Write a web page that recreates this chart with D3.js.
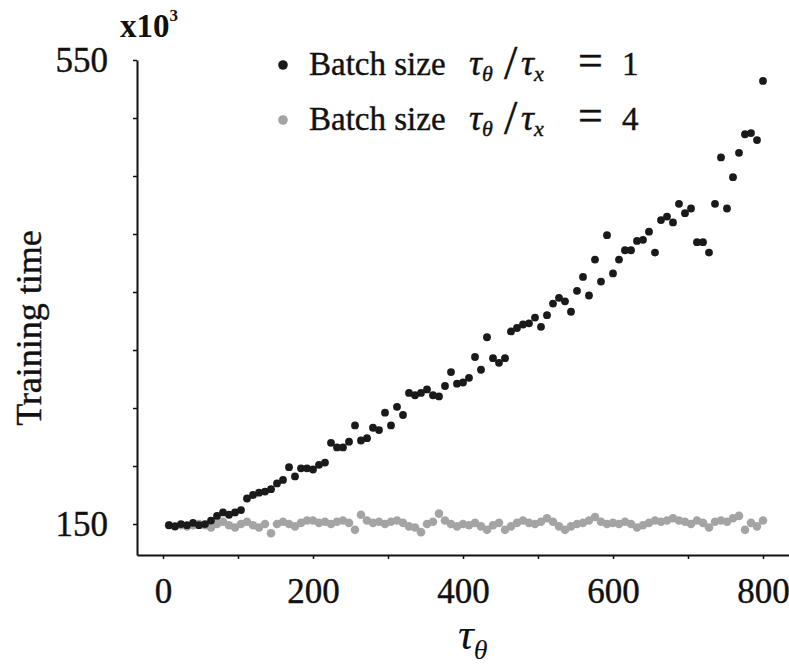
<!DOCTYPE html>
<html>
<head>
<meta charset="utf-8">
<script src="https://cdn.jsdelivr.net/npm/d3@7"></script>
<style>
  body { margin: 0; background: #fff; }
  svg text { font-family: "Liberation Serif", "DejaVu Serif", serif; fill: #111; }
</style>
</head>
<body>
<div id="chart"></div>
<script>
// tau_theta values (x)
const tauTheta = [
  8, 16, 24, 32, 40, 48, 56, 64, 72, 80, 88, 96, 104, 112, 120, 128, 136, 144, 152, 160,
  168, 176, 184, 192, 200, 208, 216, 224, 232, 240, 248, 256, 264, 272, 280, 288, 296, 304, 312, 320,
  328, 336, 344, 352, 360, 368, 376, 384, 392, 400, 408, 416, 424, 432, 440, 448, 456, 464, 472, 480,
  488, 496, 504, 512, 520, 528, 536, 544, 552, 560, 568, 576, 584, 592, 600, 608, 616, 624, 632, 640,
  648, 656, 664, 672, 680, 688, 696, 704, 712, 720, 728, 736, 744, 752, 760, 768, 776, 784, 792, 800
];

// training time (x10^3), batch size tau_theta/tau_x = 1
const batch1 = [
  149, 148, 150, 149, 151, 149, 150, 153, 157, 160,
  158, 160, 162, 172, 175, 177, 178, 180, 185, 188,
  199, 191, 198, 198, 197, 201, 203, 220, 216, 216,
  221, 235, 222, 224, 233, 231, 246, 235, 251, 244,
  263, 261, 263, 266, 261, 260, 269, 281, 271, 272,
  276, 294, 283, 311, 293, 289, 293, 316, 319, 322,
  323, 328, 320, 330, 340, 345, 342, 333, 351, 363,
  347, 378, 359, 399, 366, 378, 386, 386, 394, 395,
  402, 384, 412, 415, 410, 426, 418, 422, 393, 393,
  384, 426, 466, 422, 449, 470, 486, 487, 481, 532
];

// training time (x10^3), batch size tau_theta/tau_x = 4
const batch4 = [
  149, 148, 149, 148, 149, 150, 149, 147, 150, 152,
  149, 147, 150, 152, 149, 147, 150, 142, 150, 152,
  150, 148, 151, 153, 153, 151, 152, 150, 152, 153,
  151, 145, 158, 153, 151, 152, 150, 152, 153, 151,
  148, 147, 143, 150, 152, 159, 153, 150, 148, 150,
  149, 151, 148, 145, 149, 151, 145, 148, 151, 153,
  151, 150, 152, 155, 152, 148, 145, 148, 150, 151,
  153, 156, 152, 150, 151, 150, 152, 150, 147, 149,
  151, 153, 152, 153, 155, 153, 152, 150, 153, 151,
  147, 152, 153, 152, 155, 157, 145, 151, 148, 153
];

const xTicks = [0, 100, 200, 300, 400, 500, 600, 700, 800];
const xTickLabels = [0, 200, 400, 600, 800];
const yTicks = [150, 200, 250, 300, 350, 400, 450, 500, 550];
const yTickLabels = [150, 550];

const serif = '"Liberation Serif", "DejaVu Serif", serif';

let svgWidth = 789;
let svgHeight = 668;

let svg = d3.select('#chart')
  .append('svg')
  .attr('width', svgWidth)
  .attr('height', svgHeight)
  .style('font-family', serif);

let x = d3.scaleLinear().domain([-34.67, 834.67]).range([137, 789]);
let y = d3.scaleLinear().domain([123.3, 550]).range([555, 60]);

// x axis
let gx = svg.append('g')
  .attr('transform', 'translate(0,555)')
  .call(d3.axisBottom(x)
    .tickValues(xTicks)
    .tickSize(4)
    .tickSizeOuter(0)
    .tickPadding(19)
    .tickFormat(d => xTickLabels.includes(d) ? d : ''));

// y axis
let gy = svg.append('g')
  .attr('transform', 'translate(137,0)')
  .call(d3.axisLeft(y)
    .tickValues(yTicks)
    .tickSize(4)
    .tickSizeOuter(0)
    .tickPadding(25)
    .tickFormat(d => yTickLabels.includes(d) ? d : ''));

[gx, gy].forEach(g => {
  g.attr('font-family', serif).attr('font-size', 35);
  g.select('.domain').attr('stroke', '#111').attr('stroke-width', 2);
  g.selectAll('.tick line').attr('stroke', '#111').attr('stroke-width', 1.5);
  g.selectAll('.tick text').attr('fill', '#111').attr('stroke', '#111').attr('stroke-width', 0.4);
});

// points
svg.append('g').selectAll('circle')
  .data(batch4)
  .enter()
  .append('circle')
  .attr('cx', (d, i) => x(tauTheta[i]))
  .attr('cy', d => y(d))
  .attr('r', 4.3)
  .attr('fill', '#a4a4a4');

svg.append('g').selectAll('circle')
  .data(batch1)
  .enter()
  .append('circle')
  .attr('cx', (d, i) => x(tauTheta[i]))
  .attr('cy', d => y(d))
  .attr('r', 3.9)
  .attr('fill', '#1a1a1a');

// multiplier
let mult = svg.append('text')
  .attr('x', 120)
  .attr('y', 37)
  .attr('font-family', serif)
  .attr('font-size', 33)
  .attr('font-weight', 'bold');
mult.append('tspan').text('x10');
mult.append('tspan').attr('dy', -16).attr('font-size', 17).text('3');

// y label
svg.append('text')
  .attr('transform', 'translate(41,328) rotate(-90)')
  .attr('text-anchor', 'middle')
  .attr('font-family', serif)
  .attr('font-size', 36)
  .attr('stroke', '#111')
  .attr('stroke-width', 0.4)
  .text('Training time');

// x label
let xl = svg.append('text')
  .attr('x', 458)
  .attr('y', 649)
  .attr('font-family', serif)
  .attr('font-style', 'italic');
xl.append('tspan').attr('font-size', 44).text('τ');
xl.append('tspan').attr('dy', 10).attr('font-size', 28).text('θ');

// legend
let legend = [
  { color: '#1a1a1a', label: '1', yy: 75 },
  { color: '#a4a4a4', label: '4', yy: 130 }
];

legend.forEach(l => {
  svg.append('circle')
    .attr('cx', 283)
    .attr('cy', l.yy - 10)
    .attr('r', 4.8)
    .attr('fill', l.color);
  let t = svg.append('text').attr('y', l.yy).attr('font-family', serif).attr('font-size', 33)
    .attr('stroke', '#111').attr('stroke-width', 0.4);
  t.append('tspan').attr('x', 309).text('Batch size');
  t.append('tspan').attr('x', 469).attr('font-style', 'italic').attr('font-size', 36).text('τ');
  t.append('tspan').attr('dy', 6).attr('font-style', 'italic').attr('font-size', 22).text('θ');
  t.append('tspan').attr('x', 504).attr('dy', -2).attr('font-size', 48).text('/');
  t.append('tspan').attr('x', 521).attr('dy', -4).attr('font-style', 'italic').attr('font-size', 36).text('τ');
  t.append('tspan').attr('dy', 6).attr('font-style', 'italic').attr('font-size', 22).text('x');
  t.append('tspan').attr('x', 578).attr('dy', -6).attr('font-size', 44).text('=');
  t.append('tspan').attr('x', 622).text(l.label);
});
</script>
</body>
</html>
